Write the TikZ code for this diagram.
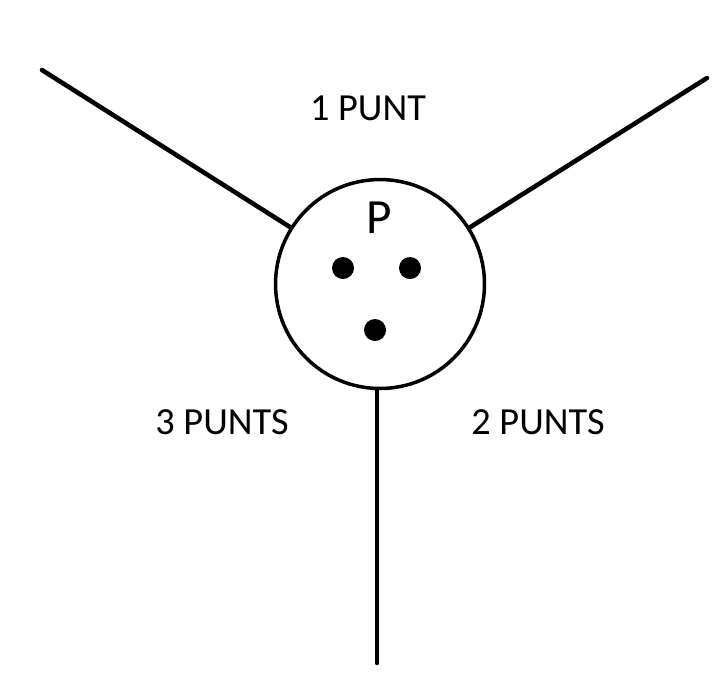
\documentclass[tikz,border=0pt]{standalone}
\usepackage{fontspec}
\setmainfont{Carlito}
\usetikzlibrary{calc}
\tikzset{
  % branques i cercle
  branca/.style   = {line width=2.6pt, black, line cap=round},
  cercle/.style   = {circle, draw=black, line width=2pt, minimum size=4.18cm, inner sep=0pt},
  % punts interiors
  punt/.style     = {circle, fill=black, inner sep=0pt, minimum size=0.44cm},
  % etiquetes
  etiq/.style     = {font=\fontsize{21.8}{26}\selectfont, inner sep=1pt},
  etiqP/.style    = {font=\fontsize{28}{32}\selectfont, inner sep=1pt},
}
\begin{document}
\begin{tikzpicture}[x=0.02cm, y=-0.02cm]
  \useasboundingbox (0,0) rectangle (719,681);
  % Cercle central
  \node[cercle] (C) at (380,284) {};
  % Extrems de les branques
  \coordinate (E1) at (42,70);
  \coordinate (E2) at (707,78);
  \coordinate (E3) at (377,663);
  % Branques
  \draw[branca] (E1) -- (C);
  \draw[branca] (E2) -- (C);
  \draw[branca] (E3) -- (E3 |- C.south);
  % Punts
  \node[punt] (p1) at (343,268) {};
  \node[punt] (p2) at (410,268) {};
  \node[punt] (p3) at (375,330) {};
  % Etiquetes
  \node[etiqP] (lP) at (379,218) {P};
  \node[etiq] (l1) at (368,108) {1 PUNT};
  \node[etiq] (l3) at (222,422) {3 PUNTS};
  \node[etiq] (l2) at (538,422) {2 PUNTS};
\end{tikzpicture}
\end{document}
